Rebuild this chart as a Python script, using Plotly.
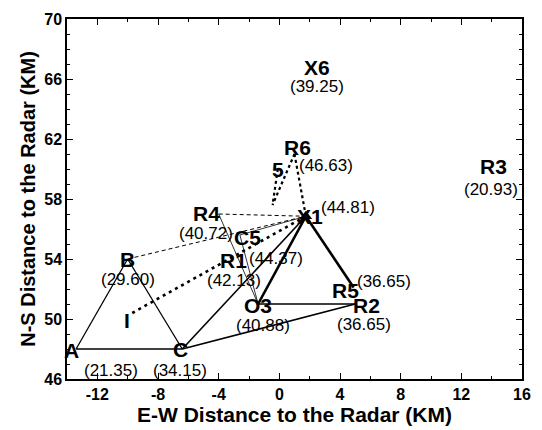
import plotly.graph_objects as go

# ---- data ----
cell_names = ["A", "B", "C", "I", "O3", "R2", "R5", "X1", "R4", "C5", "R1", "R6", "5", "P", "X6", "R3"]
cell_x = [-13.4, -10.0, -6.4, -9.7, -1.4, 5.0, 4.9, 1.75, -4.0, -2.6, -3.0, 1.0, -0.1, -0.45, 2.5, 14.1]
cell_y = [48.0, 54.0, 48.0, 50.4, 51.0, 51.0, 52.1, 56.85, 57.0, 55.6, 53.9, 61.0, 60.0, 57.6, 66.8, 60.2]
cell_dbz = [21.35, 29.60, 34.15, None, 40.88, 36.65, 36.65, 44.81, 40.72, 44.37, 42.13, 46.63, None, None, 39.25, 20.93]

thin_solid = [("A", "B"), ("B", "C"), ("A", "C")]
medium_solid = [("C", "X1"), ("C", "R2"), ("O3", "R2")]
thick_solid = [("O3", "X1"), ("X1", "R5")]
thin_dashed = [("R4", "X1"), ("B", "X1")]
hairline = [("R4", "O3"), ("C5", "O3"), ("C5", "X1")]
thick_dotted = [("I", "X1")]
dotted = [("R6", "X1"), ("R6", "P"), ("5", "P")]

x_ticks = [-12, -8, -4, 0, 4, 8, 12, 16]
y_ticks = [46, 50, 54, 58, 62, 66, 70]

# ---- label offsets (pixels): name (dx, dy), value (dx, dy); dy positive = down ----
name_off = {"A": (-5, 1), "B": (0, 0), "C": (-2, 0), "I": (-5, 7), "O3": (0, 1), "R2": (11, 1),
            "R5": (-8, 3), "X1": (4, 0), "R4": (-12, -1), "C5": (8, 2), "R1": (0, 0),
            "R6": (3, -7), "5": (0, 0), "X6": (0, 0), "R3": (0, 0)}
val_off = {"A": (35, 21), "B": (0, 20), "C": (-2, 21), "O3": (5, 21), "R2": (9, 20),
           "R5": (30, -6), "X1": (42, -9), "R4": (-13, 19), "C5": (36, 23), "R1": (0, 20),
           "R6": (31, 11), "X6": (0, 19), "R3": (-2, 23)}

pos = {n: (x, y) for n, x, y in zip(cell_names, cell_x, cell_y)}
val = {n: v for n, v in zip(cell_names, cell_dbz)}

FONT = "Liberation Sans, Arial, Helvetica, sans-serif"
fig = go.Figure()


def add_segments(pairs, width, dash="solid"):
    for a, b in pairs:
        fig.add_trace(go.Scatter(
            x=[pos[a][0], pos[b][0]], y=[pos[a][1], pos[b][1]],
            mode="lines", line=dict(color="black", width=width, dash=dash),
            showlegend=False, hoverinfo="skip"))


add_segments(hairline, 0.8)
add_segments(thin_solid, 1.3)
add_segments(medium_solid, 1.6)
add_segments(thick_solid, 2.6)
add_segments(thin_dashed, 1.0, "4px,3px")
add_segments(thick_dotted, 2.6, "3px,4px")
add_segments(dotted, 2.2, "3px,3px")

# marker at X1
fig.add_trace(go.Scatter(x=[pos["X1"][0]], y=[pos["X1"][1]], mode="markers",
                         marker=dict(symbol="triangle-up", size=11, color="black"),
                         showlegend=False, hoverinfo="skip"))

for n in cell_names:
    if n in name_off:
        dx, dy = name_off[n]
        fig.add_annotation(x=pos[n][0], y=pos[n][1], text=f"<b>{n}</b>", showarrow=False,
                           xshift=dx, yshift=-dy, font=dict(family=FONT, size=21, color="black"))
    if val[n] is not None:
        dx, dy = val_off[n]
        fig.add_annotation(x=pos[n][0], y=pos[n][1], text=f"({val[n]:.2f})", showarrow=False,
                           xshift=dx, yshift=-dy, font=dict(family=FONT, size=17, color="black"))

axis_common = dict(showline=True, linecolor="black", linewidth=1.5, mirror="allticks",
                   ticks="inside", ticklen=6, tickwidth=1.2, tickcolor="black",
                   showgrid=False, zeroline=False,
                   tickfont=dict(family=FONT, size=16, color="black"))

fig.update_layout(
    width=542, height=430,
    margin=dict(l=67, r=11, t=14, b=47),
    paper_bgcolor="white", plot_bgcolor="white",
    xaxis=dict(range=[-14, 16], tickvals=x_ticks, ticktext=[f"<b>{t}</b>" for t in x_ticks],
               minor=dict(dtick=2, tick0=0, ticks="inside", ticklen=3, tickcolor="black"),
               title=dict(text="<b>E-W Distance to the Radar (KM)</b>", standoff=1,
                          font=dict(family=FONT, size=21, color="black")),
               **axis_common),
    yaxis=dict(range=[46, 70], tickvals=y_ticks, ticktext=[f"<b>{t}</b>" for t in y_ticks],
               minor=dict(dtick=1, tick0=0, ticks="inside", ticklen=3, tickcolor="black"),
               title=dict(text="<b>N-S Distance to the Radar (KM)</b>", standoff=3,
                          font=dict(family=FONT, size=20, color="black")),
               **axis_common),
)

fig.write_html("out.html")
